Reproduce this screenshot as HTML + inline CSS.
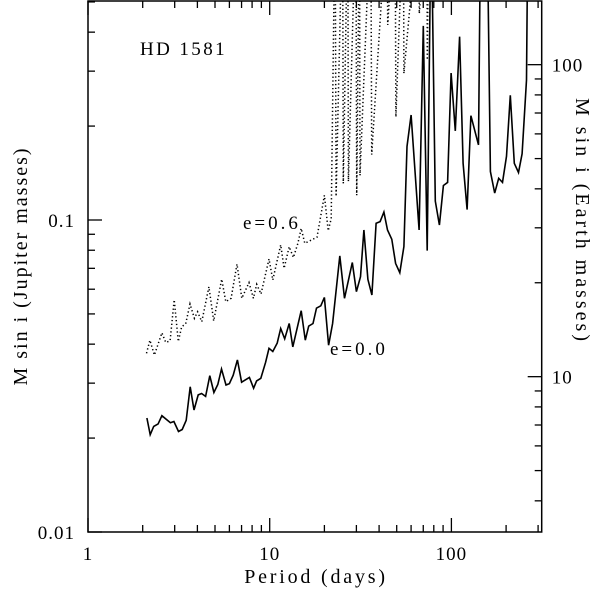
<!DOCTYPE html>
<html><head><meta charset="utf-8"><style>
html,body{margin:0;padding:0;background:#fff;}
svg{display:block;font-family:"Liberation Serif","DejaVu Serif",serif;}
</style></head><body>
<svg id="chart" width="600" height="590" viewBox="0 0 600 590" xmlns="http://www.w3.org/2000/svg">
<defs><clipPath id="clip"><rect x="88" y="1" width="454" height="531"/></clipPath></defs>
<g id="marks" clip-path="url(#clip)"></g>
<g id="axes"></g>
<text x="140" y="55" font-size="19" letter-spacing="2.4">HD 1581</text>
<text x="243" y="229" font-size="19" letter-spacing="3">e=0.6</text>
<text x="330" y="355" font-size="19" letter-spacing="3">e=0.0</text>
<text x="316" y="583" font-size="20" text-anchor="middle" letter-spacing="2.8">Period (days)</text>
<text transform="translate(27,266) rotate(-90)" font-size="20" text-anchor="middle" letter-spacing="2">M sin i (Jupiter masses)</text>
<text transform="translate(576,221) rotate(90)" font-size="20" text-anchor="middle" letter-spacing="3">M sin i (Earth masses)</text>
</svg>
<script>
const solidP=[2.11,2.20,2.30,2.43,2.55,2.84,2.97,3.15,3.30,3.47,3.65,3.83,4.04,4.22,4.44,4.68,4.93,5.18,5.43,5.75,6.00,6.30,6.64,7.00,7.73,8.15,8.47,8.93,9.49,9.91,10.4,11.0,11.5,12.1,12.8,13.4,14.9,15.7,16.4,17.3,18.1,19.1,20.0,21.1,22.2,24.3,25.8,28.5,30.0,31.6,33.0,34.7,36.5,38.5,40.5,42.5,44.5,47.0,49.3,52.0,54.8,57.0,60.0,66.4,70.0,73.6,77.3,81.5,85.9,90.4,95.3,99.6,105,111,116,122,128,141,145,157,164,173,182,191,201,211,222,234,245,259,264];
const solidM=[0.0232,0.0205,0.0218,0.0222,0.0236,0.0224,0.0226,0.0210,0.0213,0.0228,0.0292,0.0246,0.0275,0.0278,0.0272,0.0317,0.0280,0.0297,0.0333,0.0296,0.0299,0.0318,0.0356,0.0302,0.0313,0.0289,0.0305,0.0311,0.0350,0.0388,0.0379,0.0403,0.0449,0.0416,0.0466,0.0392,0.0512,0.0412,0.0457,0.0466,0.0522,0.0531,0.0565,0.0397,0.0466,0.0767,0.0561,0.0731,0.0589,0.0658,0.0929,0.0645,0.0575,0.0976,0.0988,0.106,0.0929,0.0867,0.0726,0.0678,0.0822,0.172,0.217,0.0929,0.419,0.0798,1.0,0.115,0.0964,0.129,0.132,0.296,0.193,0.387,0.152,0.108,0.216,0.174,1.0,1.0,0.143,0.122,0.136,0.132,0.160,0.251,0.152,0.142,0.163,0.281,1.0];
const dotP=[2.10,2.19,2.32,2.55,2.68,2.83,2.98,3.14,3.28,3.45,3.64,3.85,4.01,4.23,4.63,4.92,5.44,5.73,6.13,6.61,7.02,7.69,8.13,8.48,8.96,9.91,10.4,11.5,12.0,12.8,13.5,14.3,14.9,15.6,18.2,20.0,21.0,21.8,22.9,23.2,25.2,25.4,26.9,27.1,29.8,30.1,31.2,31.4,36.0,36.4,44.3,44.6,49.0,49.5,54.4,54.8,66.2,66.6,73.3,73.7,75.0];
const dotM=[0.0374,0.0412,0.0369,0.0435,0.0405,0.0410,0.0555,0.0408,0.0455,0.0465,0.0538,0.0484,0.0508,0.0472,0.0611,0.0475,0.0646,0.0547,0.0561,0.0722,0.0561,0.0630,0.0561,0.0622,0.0579,0.0750,0.0642,0.0832,0.0700,0.0821,0.0758,0.0842,0.0940,0.0842,0.0881,0.120,0.0924,0.101,1.0,0.119,1.0,0.131,1.0,0.133,1.0,0.120,1.0,0.139,1.0,0.162,1.0,0.422,1.0,0.214,1.0,0.295,1.0,0.459,1.0,0.326,1.0];
const xTickMajor=[1,10,100];
const xTickLabels=["1","10","100"];
const xTickMinor=[2,3,4,5,6,7,8,9,20,30,40,50,60,70,80,90,200,300];
const yTickMajor=[0.01,0.1];
const yTickLabels=["0.01","0.1"];
const yTickMinor=[0.02,0.03,0.04,0.05,0.06,0.07,0.08,0.09,0.2,0.3,0.4,0.5];
const eTickMajor=[10,100];
const eTickLabels=["10","100"];
const eTickMinor=[4,5,6,7,8,9,20,30,40,50,60,70,80,90];
const EARTH_PER_JUP=317.8;

const X0=88,X1=541.7,YB=532,YT=1;
const xs=p=>X0+Math.log10(p)*181.7;
const ys=m=>YB-(Math.log10(m)+2)*312;
const NS="http://www.w3.org/2000/svg";
const marks=document.getElementById('marks'),axes=document.getElementById('axes');
function mk(tag,parent){const e=document.createElementNS(NS,tag);parent.appendChild(e);return e;}

let d='';solidP.forEach((p,i)=>{d+=(i?'L':'M')+xs(p).toFixed(1)+' '+ys(solidM[i]).toFixed(1);});
const sl=mk('path',marks);


sl.setAttribute('d',d);sl.setAttribute('fill','none');sl.setAttribute('stroke','#000');sl.setAttribute('stroke-width','1.6');sl.setAttribute('stroke-linejoin','miter');
d='';dotP.forEach((p,i)=>{d+=(i?'L':'M')+xs(p).toFixed(1)+' '+ys(dotM[i]).toFixed(1);});
const dl=mk('path',marks);


dl.setAttribute('d',d);dl.setAttribute('fill','none');dl.setAttribute('stroke','#000');dl.setAttribute('stroke-width','1.5');dl.setAttribute('stroke-dasharray','1.3 2.5');

const fr=mk('rect',axes);


fr.setAttribute('x',X0);fr.setAttribute('y',YT);fr.setAttribute('width',X1-X0);fr.setAttribute('height',YB-YT);fr.setAttribute('fill','none');fr.setAttribute('stroke','#000');fr.setAttribute('stroke-width','1.5');
function line(x1,y1,x2,y2,name){const l=mk('line',axes);


l.setAttribute('x1',x1);l.setAttribute('y1',y1);l.setAttribute('x2',x2);l.setAttribute('y2',y2);l.setAttribute('stroke','#000');l.setAttribute('stroke-width','1.3');}
function txt(x,y,s,anchor,name){const t=mk('text',axes);


t.setAttribute('x',x);t.setAttribute('y',y);t.setAttribute('font-size','19');t.setAttribute('text-anchor',anchor);t.setAttribute('letter-spacing','1');t.textContent=s;}
xTickMajor.forEach((v,i)=>{const x=xs(v);line(x,YB,x,YB-14,'x-tick-major');line(x,YT,x,YT+14,'x-tick-top');txt(x,560,xTickLabels[i],'middle','x-tick-label');});
xTickMinor.forEach(v=>{const x=xs(v);if(x<=X1){line(x,YB,x,YB-7,'x-tick-minor');line(x,YT,x,YT+7,'x-tick-top-minor');}});
yTickMajor.forEach((v,i)=>{const y=ys(v);line(X0,y,X0+14,y,'y-tick-major');txt(X0-13,y+7,yTickLabels[i],'end','y-tick-label');});
yTickMinor.forEach(v=>{const y=ys(v);if(y>=YT)line(X0,y,X0+7,y,'y-tick-minor');});
eTickMajor.forEach((v,i)=>{const y=ys(v/EARTH_PER_JUP);line(X1,y,X1-14,y,'y2-tick-major');txt(X1+10,y+7,eTickLabels[i],'start','y2-tick-label');});
eTickMinor.forEach(v=>{const y=ys(v/EARTH_PER_JUP);if(y>=YT&&y<=YB)line(X1,y,X1-7,y,'y2-tick-minor');});
</script>
</body></html>
